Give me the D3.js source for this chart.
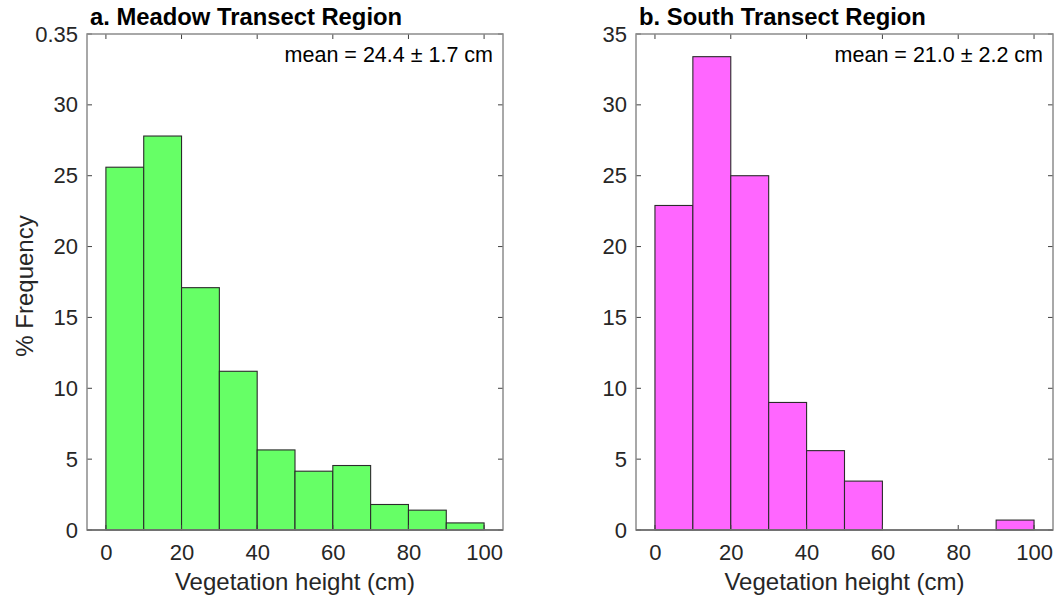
<!DOCTYPE html>
<html>
<head>
<meta charset="utf-8">
<script src="https://cdn.jsdelivr.net/npm/d3@7"></script>
<style>
  html, body { margin: 0; padding: 0; background: #fff; }
  svg { display: block; font-family: "Liberation Sans", Arial, Helvetica, sans-serif; }
</style>
</head>
<body>
<svg id="chart" width="1056" height="598"></svg>
<script>
// Histogram bin edges (cm) shared by both panels
const binEdges = [0, 10, 20, 30, 40, 50, 60, 70, 80, 90, 100];

// % frequency per bin
const meadowValues = [25.6, 27.8, 17.1, 11.2, 5.65, 4.15, 4.55, 1.8, 1.4, 0.5];
const southValues = [22.9, 33.4, 25.0, 9.0, 5.6, 3.45, 0, 0, 0, 0.7];

// Axis ticks and labels
const xTicks = [0, 20, 40, 60, 80, 100];
const yTicks = [0, 5, 10, 15, 20, 25, 30, 35];
const yTickLabelsA = ["0", "5", "10", "15", "20", "25", "30", "0.35"];
const yTickLabelsB = ["0", "5", "10", "15", "20", "25", "30", "35"];

const titles = ["a. Meadow Transect Region", "b. South Transect Region"];
const meanLabels = ["mean = 24.4 \u00b1 1.7 cm", "mean = 21.0 \u00b1 2.2 cm"];
const xLabel = "Vegetation height (cm)";
const yLabel = "% Frequency";

const panels = [
  { values: meadowValues, fill: "#66ff66", left: 87, right: 503, yLabels: yTickLabelsA, title: titles[0], mean: meanLabels[0], showY: true },
  { values: southValues, fill: "#ff66ff", left: 636, right: 1053, yLabels: yTickLabelsB, title: titles[1], mean: meanLabels[1], showY: false }
];

const plotTop = 34, plotBottom = 530;
const svg = d3.select("#chart");
const textColor = "#262626";
const boxColor = "#8c8c8c";

panels.forEach(p => {
  const x = d3.scaleLinear().domain([-5, 105]).range([p.left, p.right]);
  const y = d3.scaleLinear().domain([0, 35]).range([plotBottom, plotTop]);
  const g = svg.append("g");

  // bars
  const bins = p.values.map((v, i) => ({ x0: binEdges[i], x1: binEdges[i + 1], v }));
  g.selectAll("rect.bar").data(bins.filter(d => d.v > 0)).join("rect")
    .attr("class", "bar")
    .attr("x", d => x(d.x0))
    .attr("width", d => x(d.x1) - x(d.x0))
    .attr("y", d => y(d.v))
    .attr("height", d => y(0) - y(d.v))
    .attr("fill", p.fill)
    .attr("stroke", "#2b2b2b")
    .attr("stroke-width", 1.1);

  // bottom axis
  const xAxis = d3.axisBottom(x).tickValues(xTicks).tickSize(0).tickPadding(14);
  const xa = g.append("g").attr("transform", `translate(0,${plotBottom})`).call(xAxis);
  xa.select(".domain").remove();
  xa.selectAll("text").attr("fill", textColor).attr("font-size", 22);

  // left axis
  const yAxis = d3.axisLeft(y).tickValues(yTicks).tickSize(0).tickPadding(9)
    .tickFormat((d, i) => p.yLabels[i]);
  const ya = g.append("g").attr("transform", `translate(${p.left},0)`).call(yAxis);
  ya.select(".domain").remove();
  ya.selectAll("text").attr("fill", textColor).attr("font-size", 22);

  // inward tick marks on all four sides
  const tl = 5;
  const ticks = g.append("g").attr("stroke", "#404040").attr("stroke-width", 1);
  xTicks.forEach(t => {
    ticks.append("line").attr("x1", x(t)).attr("x2", x(t)).attr("y1", plotBottom).attr("y2", plotBottom - tl);
    ticks.append("line").attr("x1", x(t)).attr("x2", x(t)).attr("y1", plotTop).attr("y2", plotTop + tl);
  });
  yTicks.forEach(t => {
    ticks.append("line").attr("x1", p.left).attr("x2", p.left + tl).attr("y1", y(t)).attr("y2", y(t));
    ticks.append("line").attr("x1", p.right).attr("x2", p.right - tl).attr("y1", y(t)).attr("y2", y(t));
  });

  // axes box
  g.append("rect")
    .attr("x", p.left).attr("y", plotTop)
    .attr("width", p.right - p.left).attr("height", plotBottom - plotTop)
    .attr("fill", "none").attr("stroke", boxColor).attr("stroke-width", 1.5);
  g.append("line")
    .attr("x1", p.left).attr("x2", p.right).attr("y1", plotBottom).attr("y2", plotBottom)
    .attr("stroke", "#6a6a6a").attr("stroke-width", 1.5);

  // title
  g.append("text")
    .attr("x", p.left + 3).attr("y", 25)
    .attr("font-size", 23.8).attr("font-weight", "bold").attr("fill", "#000")
    .text(p.title);

  // mean annotation
  g.append("text")
    .attr("x", p.right - 10).attr("y", 62)
    .attr("text-anchor", "end").attr("font-size", 21.5).attr("fill", "#000")
    .text(p.mean);

  // x axis label
  g.append("text")
    .attr("x", (x(0) + x(100)) / 2).attr("y", 590)
    .attr("text-anchor", "middle").attr("font-size", 24).attr("fill", textColor)
    .text(xLabel);

  if (p.showY) {
    g.append("text")
      .attr("transform", `translate(33,${(plotTop + plotBottom) / 2 + 4}) rotate(-90)`)
      .attr("text-anchor", "middle").attr("font-size", 24).attr("fill", textColor)
      .text(yLabel);
  }
});
</script>
</body>
</html>
